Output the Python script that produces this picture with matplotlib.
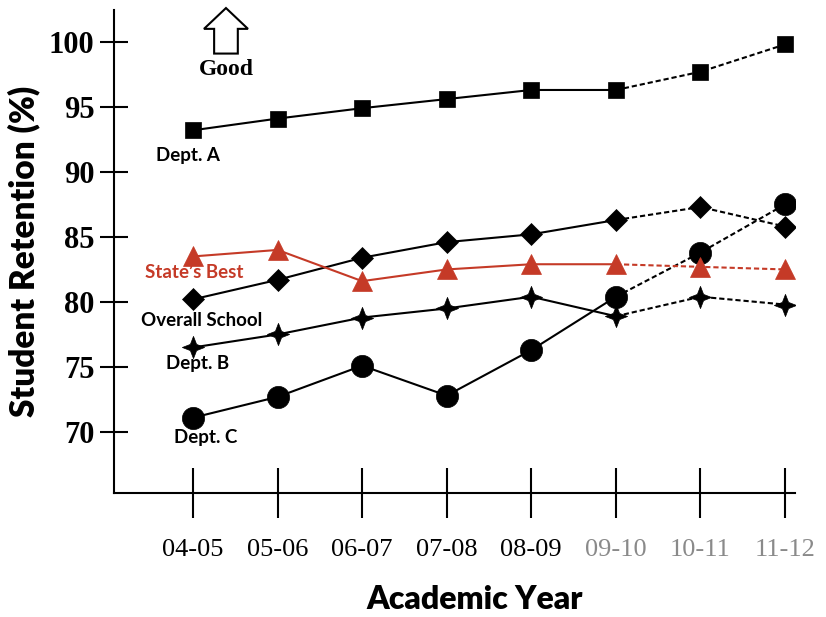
"""Student retention by academic year, departments vs school and state best."""
import numpy as np
import matplotlib
matplotlib.use("Agg")
import matplotlib.pyplot as plt
from matplotlib.path import Path
from matplotlib.patches import FancyArrow

years = ["04-05", "05-06", "06-07", "07-08", "08-09", "09-10", "10-11", "11-12"]
year_colors = ["black"] * 5 + ["#8a8a8a"] * 3
dept_a = [93.2, 94.1, 94.9, 95.6, 96.3, 96.3, 97.7, 99.8]
overall = [80.2, 81.7, 83.4, 84.6, 85.2, 86.3, 87.3, 85.8]
state_best = [83.5, 84.0, 81.6, 82.5, 82.9, 82.9, 82.7, 82.5]
dept_b = [76.5, 77.5, 78.8, 79.5, 80.4, 78.9, 80.4, 79.8]
dept_c = [71.1, 72.7, 75.1, 72.8, 76.3, 80.4, 83.8, 87.5]
yticks = [70, 75, 80, 85, 90, 95, 100]
split = 5  # from 09-10 on the lines are dashed

RED = "#c53a27"
star4 = Path([(0, 1), (0.28, 0.28), (1, 0), (0.28, -0.28), (0, -1),
              (-0.28, -0.28), (-1, 0), (-0.28, 0.28), (0, 1)],
             [Path.MOVETO] + [Path.LINETO] * 7 + [Path.CLOSEPOLY])

series = [
    (dept_c, "black", "o", 16),
    (dept_b, "black", star4, 16),
    (overall, "black", "D", 11),
    (state_best, RED, "^", 15),
    (dept_a, "black", "s", 11),
]

fig = plt.figure(figsize=(8.26, 6.17), dpi=100)
ax = fig.add_axes([0.138, 0.201, 0.8245, 0.783])
x = np.arange(len(years))

for vals, col, mk, ms in series:
    v = np.array(vals)
    ax.plot(x[:split + 1], v[:split + 1], color=col, lw=1.5, zorder=2)
    ax.plot(x[split:], v[split:], color=col, lw=1.5, ls=(0, (2.5, 1.4)), zorder=2)
    ax.plot(x, v, ls="none", marker=mk, ms=ms, color=col, mec=col, mew=0.5,
            zorder=3)

ax.set_xlim(-0.934, 7.118)
ax.set_ylim(65.31, 102.46)
for s in ["top", "right"]:
    ax.spines[s].set_visible(False)
for s in ["left", "bottom"]:
    ax.spines[s].set_linewidth(1.5)

ax.set_yticks(yticks)
ax.set_yticklabels([str(t) for t in yticks], fontfamily="Liberation Serif",
                   fontweight="bold", fontsize=22)
ax.tick_params(axis="y", direction="inout", length=20, width=1.5, pad=4)
ax.set_xticks(x)
ax.set_xticklabels(years, fontfamily="Liberation Serif", fontsize=19)
ax.tick_params(axis="x", direction="inout", length=36, width=1.5, pad=15)
for lab, c in zip(ax.get_xticklabels(), year_colors):
    lab.set_color(c)

ax.set_ylabel("Student Retention (%)", fontfamily="Lato", fontweight="heavy",
              fontsize=24, labelpad=6)
ax.set_xlabel("Academic Year", fontfamily="Lato", fontweight="heavy",
              fontsize=23)
ax.xaxis.set_label_coords(0.53, -0.19)

lab_kw = dict(fontfamily="Lato", fontweight="bold", fontsize=13.5,
              ha="center", va="center")
ax.text(-0.06, 91.3, "Dept. A", **lab_kw)
ax.text(0.01, 82.3, "State\u2019s Best", color=RED, **lab_kw)
ax.text(0.10, 78.6, "Overall School", **lab_kw)
ax.text(0.06, 75.3, "Dept. B", **lab_kw)
ax.text(0.15, 69.6, "Dept. C", **lab_kw)

# "Good" arrow pointing up
ax.add_patch(FancyArrow(0.39, 99.1, 0, 3.5, width=0.28, head_width=0.52,
                        head_length=1.6, length_includes_head=True,
                        fc="white", ec="black", lw=1.5, clip_on=False))
ax.text(0.39, 97.9, "Good", fontfamily="Liberation Serif", fontweight="bold",
        fontsize=17, ha="center", va="center")

fig.savefig("out.png", dpi=100)
